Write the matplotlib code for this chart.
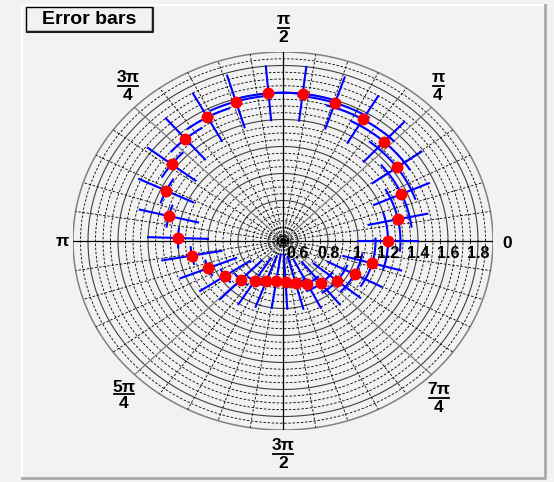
import numpy as np
import matplotlib
matplotlib.use("Agg")
import matplotlib.pyplot as plt
from matplotlib.patches import Rectangle

plt.rcParams["font.family"] = ["Liberation Sans", "DejaVu Sans"]

# polar graph points: angle (rad), radius, angular error (rad), radial error
theta = [0.000, 0.207, 0.415, 0.622, 0.829, 1.037, 1.244, 1.451, 1.659, 1.866,
         2.073, 2.281, 2.488, 2.695, 2.903, 3.110, 3.318, 3.525, 3.732, 3.940,
         4.147, 4.354, 4.562, 4.769, 4.976, 5.184, 5.391, 5.598, 5.806, 6.013]
radius = [1.200, 1.283, 1.363, 1.435, 1.497, 1.546, 1.580, 1.598, 1.598, 1.580,
          1.546, 1.497, 1.435, 1.363, 1.283, 1.200, 1.117, 1.037, 0.965, 0.903,
          0.854, 0.820, 0.802, 0.802, 0.820, 0.854, 0.903, 0.965, 1.037, 1.117]
err_theta = [0.300, 0.298, 0.291, 0.281, 0.267, 0.250, 0.231, 0.210, 0.190, 0.169,
             0.150, 0.133, 0.119, 0.109, 0.102, 0.100, 0.102, 0.109, 0.119, 0.133,
             0.150, 0.169, 0.190, 0.210, 0.231, 0.250, 0.267, 0.281, 0.291, 0.298]
err_radius = [0.2, 0.2, 0.2, 0.2, 0.2, 0.2, 0.2, 0.2, 0.2, 0.2,
              0.2, 0.2, 0.2, 0.2, 0.2, 0.2, 0.2, 0.2, 0.2, 0.2,
              0.2, 0.2, 0.2, 0.2, 0.2, 0.2, 0.2, 0.2, 0.2, 0.2]

# radial axis range and labelled circles
R_MIN, R_MAX = 0.5, 1.9
radial_ticks = [0.6, 0.8, 1.0, 1.2, 1.4, 1.6, 1.8]
radial_labels = ["0.6", "0.8", "1", "1.2", "1.4", "1.6", "1.8"]

W, H = 554, 482
BG = "#f2f2f2"


def to_xy(r, t):
    rho = (np.asarray(r, dtype=float) - R_MIN) / (R_MAX - R_MIN)
    t = np.asarray(t, dtype=float)
    return rho * np.cos(t), rho * np.sin(t)


fig = plt.figure(figsize=(W / 100, H / 100), dpi=100, facecolor=BG)

# page-level overlay in pixel units for the frame, title and angle labels
bg = fig.add_axes([0, 0, 1, 1])
bg.set_xlim(0, W)
bg.set_ylim(H, 0)
bg.axis("off")
bg.plot([22, 22, 545], [478, 5, 5], color="white", lw=1.5)
bg.plot([22, 545, 545], [478, 478, 5], color="#a8a8a8", lw=2)

bg.add_patch(Rectangle((26, 7), 126, 24, facecolor=BG, edgecolor="black", lw=1))
bg.plot([27, 153, 153], [32, 32, 8], color="#202020", lw=1.5)
bg.text(89, 19.5, "Error bars", ha="center", va="center", fontsize=14,
        fontweight="bold")

# polar frame: unit ellipse in data coordinates
ax = fig.add_axes([73 / W, 1 - 430 / H, 420 / W, 378 / H])
ax.set_xlim(-1, 1)
ax.set_ylim(-1, 1)
ax.axis("off")
ax.patch.set_alpha(0)

tt = np.linspace(0, 2 * np.pi, 721)
dash = (0, (3, 2))

# radial grid circles
minor_r = [v for v in np.round(np.arange(0.55, 1.9, 0.05), 2)
           if not np.isclose(v, radial_ticks).any()]
for v in minor_r:
    ax.plot(*to_xy(np.full_like(tt, v), tt), color="black", lw=0.6, ls=dash)
for v in radial_ticks:
    ax.plot(*to_xy(np.full_like(tt, v), tt), color="#404040", lw=0.8)
for v in [0.52, 0.535]:
    ax.plot(*to_xy(np.full_like(tt, v), tt), color="black", lw=0.9)
ax.plot(*to_xy(np.full_like(tt, R_MAX), tt), color="#808080", lw=1.1)

# polar divisions: majors every pi/4, dashed minors every pi/20
for k in range(40):
    a = k * np.pi / 20
    xs, ys = to_xy([R_MIN, R_MAX], [a, a])
    if k % 10 == 0:
        ax.plot(xs, ys, color="black", lw=0.9)
    elif k % 5 == 0:
        ax.plot(xs, ys, color="#808080", lw=0.9)
    else:
        ax.plot(xs, ys, color="black", lw=0.6, ls=dash)
ax.plot([0], [0], marker="s", ms=3, color="black")

for v, lab in zip(radial_ticks, radial_labels):
    x0, _ = to_xy(v, 0.0)
    ax.annotate(lab, (x0, 0), xytext=(0, -12), textcoords="offset pixels",
                ha="center", va="center", fontsize=11.5, fontweight="bold",
                zorder=6)

# error bars: radial segment and angular arc for every point
for t, r, et, er in zip(theta, radius, err_theta, err_radius):
    ax.plot(*to_xy([r - er, r + er], [t, t]), color="#0000ff", lw=1.5, zorder=3)
    arc = np.linspace(t - et, t + et, 40)
    ax.plot(*to_xy(np.full_like(arc, r), arc), color="#0000ff", lw=1.5, zorder=3)

ax.plot(*to_xy(radius, theta), ls="none", marker="o", ms=7.5, color="#ff0000",
        mec="#ff0000", zorder=5)


# angle labels drawn as stacked fractions
def frac(x, y_num, y_bar, y_den, num, den, width):
    bg.text(x, y_num, num, ha="center", va="center", fontsize=12.5, fontweight="bold")
    bg.plot([x - width / 2, x + width / 2], [y_bar, y_bar], color="black", lw=1.3)
    bg.text(x, y_den, den, ha="center", va="center", fontsize=12.5, fontweight="bold")


frac(283, 20, 27.5, 38, "\u03c0", "2", 11)
frac(128, 78, 85.5, 96, "3\u03c0", "4", 20)
frac(438, 78, 85.5, 96, "\u03c0", "4", 11)
frac(124, 387, 394, 404, "5\u03c0", "4", 20)
frac(439, 390, 397.5, 407, "7\u03c0", "4", 20)
frac(283, 446, 453.5, 464, "3\u03c0", "2", 20)
bg.text(62, 241, "\u03c0", ha="center", va="center", fontsize=12.5, fontweight="bold")
bg.text(507, 243, "0", ha="center", va="center", fontsize=12.5, fontweight="bold")

fig.savefig("out.png", dpi=100, facecolor=BG)
